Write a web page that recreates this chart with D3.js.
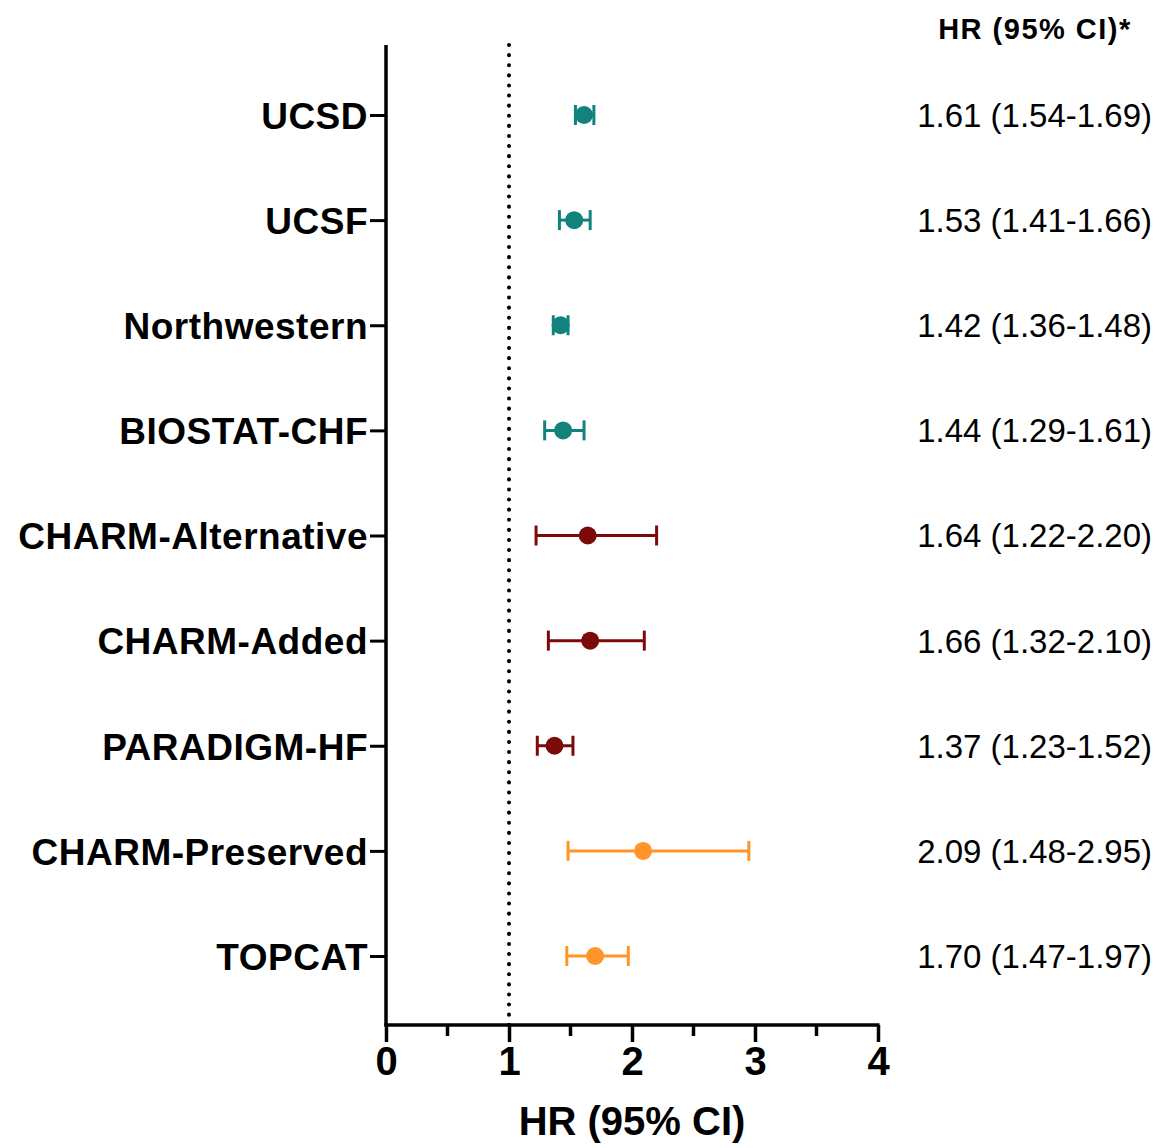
<!DOCTYPE html>
<html>
<head>
<meta charset="utf-8">
<script src="https://cdn.jsdelivr.net/npm/d3@7"></script>
<style>
  body { margin: 0; background: #fff; }
  svg text { font-family: "Liberation Sans", Arial, sans-serif; }
</style>
</head>
<body>
<div id="chart"></div>
<script>
// Data
const cohorts = ['UCSD', 'UCSF', 'Northwestern', 'BIOSTAT-CHF', 'CHARM-Alternative',
  'CHARM-Added', 'PARADIGM-HF', 'CHARM-Preserved', 'TOPCAT'];
const hr = [1.61, 1.53, 1.42, 1.44, 1.64, 1.66, 1.37, 2.09, 1.70];
const lower = [1.54, 1.41, 1.36, 1.29, 1.22, 1.32, 1.23, 1.48, 1.47];
const upper = [1.69, 1.66, 1.48, 1.61, 2.20, 2.10, 1.52, 2.95, 1.97];
const group = ['rEF', 'rEF', 'rEF', 'rEF', 'mEF', 'mEF', 'mEF', 'pEF', 'pEF'];
const xTicks = [0, 1, 2, 3, 4];

const colors = { rEF: '#12827d', mEF: '#7d0a0a', pEF: '#ff9428' };

const width = 1168;
const height = 1148;

const rows = cohorts.map((name, i) => ({
  name, hr: hr[i], lo: lower[i], hi: upper[i], group: group[i]
}));

const svg = d3.select('#chart')
  .append('svg')
  .attr('width', width)
  .attr('height', height);

const xScale = d3.scaleLinear().domain([0, 4]).range([386, 878]);
const yScale = d3.scalePoint().domain(cohorts).range([115, 956]);

const axisTop = 45;
const axisBottom = 1025;

// reference line at HR = 1
svg.append('line')
  .attr('x1', xScale(1)).attr('x2', xScale(1))
  .attr('y1', axisTop).attr('y2', axisBottom)
  .attr('stroke', '#000')
  .attr('stroke-width', 4)
  .attr('stroke-linecap', 'round')
  .attr('stroke-dasharray', '0.1 10');

// Y axis
const yAxis = svg.append('g')
  .attr('transform', `translate(${xScale(0)},0)`)
  .call(d3.axisLeft(yScale).tickSize(16).tickPadding(2));
yAxis.select('.domain').remove();
yAxis.append('line')
  .attr('x1', 0).attr('x2', 0)
  .attr('y1', axisTop).attr('y2', axisBottom + 1.5)
  .attr('stroke', '#000').attr('stroke-width', 3.5);
yAxis.selectAll('.tick line').attr('stroke-width', 3);
yAxis.selectAll('.tick text')
  .attr('font-size', 37)
  .attr('font-weight', 'bold')
  .attr('letter-spacing', 0.5)
  .attr('fill', '#000')
  .attr('dy', '0.36em');

// X axis
const xAxis = svg.append('g')
  .attr('transform', `translate(0,${axisBottom})`)
  .call(d3.axisBottom(xScale).tickValues(xTicks).tickFormat(d3.format('d')).tickSize(17).tickPadding(5));
xAxis.select('.domain').remove();
xAxis.append('line')
  .attr('x1', xScale(0) - 1.5).attr('x2', xScale(4) + 1.5)
  .attr('stroke', '#000').attr('stroke-width', 3.5);
xAxis.selectAll('.tick line').attr('stroke-width', 3.5);
xAxis.selectAll('.tick text')
  .attr('font-size', 40)
  .attr('font-weight', 'bold')
  .attr('fill', '#000');

// minor ticks
xAxis.selectAll('.minor')
  .data([0.5, 1.5, 2.5, 3.5])
  .join('line')
  .attr('class', 'minor')
  .attr('x1', d => xScale(d)).attr('x2', d => xScale(d))
  .attr('y1', 0).attr('y2', 11)
  .attr('stroke', '#000').attr('stroke-width', 3.5);

svg.append('text')
  .attr('x', (xScale(0) + xScale(4)) / 2)
  .attr('y', 1135)
  .attr('text-anchor', 'middle')
  .attr('font-size', 40)
  .attr('font-weight', 'bold')
  .text('HR (95% CI)');

// error bars
const marks = svg.append('g').selectAll('g')
  .data(rows)
  .join('g')
  .attr('transform', d => `translate(0,${yScale(d.name)})`)
  .attr('stroke', d => colors[d.group])
  .attr('fill', d => colors[d.group]);

marks.append('line')
  .attr('x1', d => xScale(d.lo)).attr('x2', d => xScale(d.hi))
  .attr('stroke-width', 3);

marks.selectAll('.cap')
  .data(d => [d.lo, d.hi])
  .join('line')
  .attr('class', 'cap')
  .attr('x1', d => xScale(d)).attr('x2', d => xScale(d))
  .attr('y1', -10).attr('y2', 10)
  .attr('stroke-width', 3);

marks.append('circle')
  .attr('cx', d => xScale(d.hr))
  .attr('r', 9)
  .attr('stroke', 'none');

// right-hand column
svg.append('text')
  .attr('x', 1035)
  .attr('y', 39)
  .attr('text-anchor', 'middle')
  .attr('font-size', 29)
  .attr('font-weight', 'bold')
  .attr('letter-spacing', 1.5)
  .text('HR (95% CI)*');

svg.append('g').selectAll('text')
  .data(rows)
  .join('text')
  .attr('x', 1152)
  .attr('y', d => yScale(d.name))
  .attr('dy', '0.36em')
  .attr('text-anchor', 'end')
  .attr('font-size', 33)
  .attr('fill', '#000')
  .text(d => `${d.hr.toFixed(2)} (${d.lo.toFixed(2)}-${d.hi.toFixed(2)})`);
</script>
</body>
</html>
